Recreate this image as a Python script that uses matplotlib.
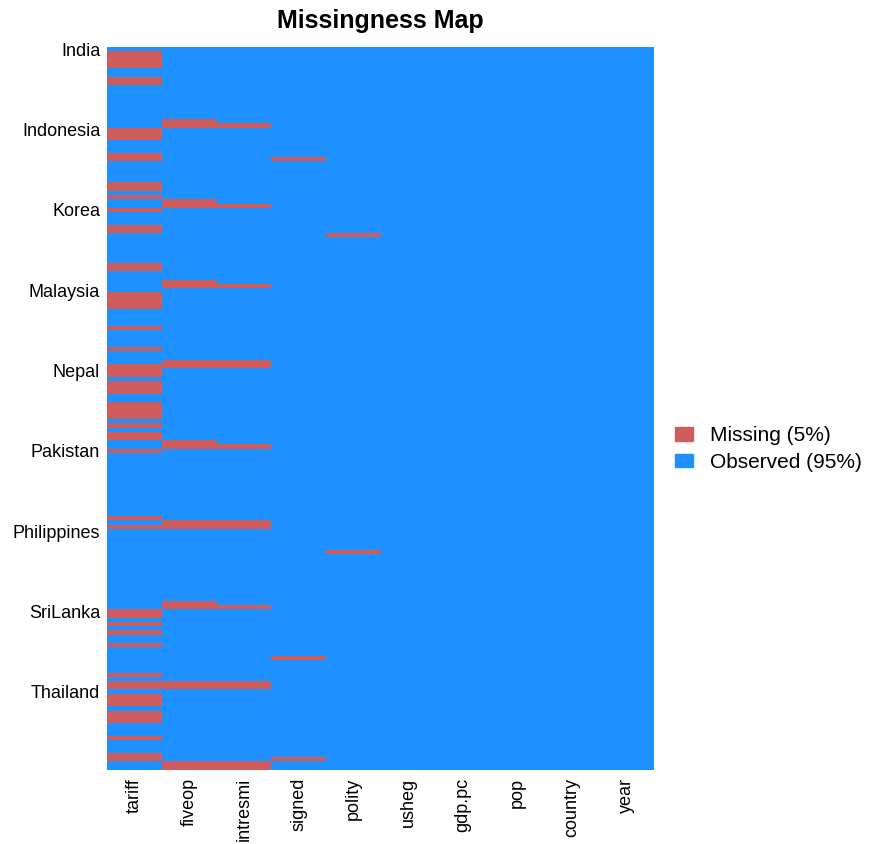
import numpy as np
import matplotlib
matplotlib.use("Agg")
import matplotlib.pyplot as plt
from matplotlib.colors import ListedColormap
from matplotlib.patches import Patch

plt.rcParams['font.family'] = ['Liberation Sans', 'DejaVu Sans']

# Data
countries = ["India", "Indonesia", "Korea", "Malaysia", "Nepal",
             "Pakistan", "Philippines", "SriLanka", "Thailand"]
years = list(range(1981, 2000))
variables = ["tariff", "fiveop", "intresmi", "signed", "polity",
             "usheg", "gdp.pc", "pop", "country", "year"]

# missing years per country, per variable
tariff_missing = {
    "India": [1982, 1983, 1984, 1985, 1988, 1989],
    "Indonesia": [1981, 1982, 1983, 1987, 1988, 1994, 1995, 1997],
    "Korea": [1981, 1985, 1986, 1994, 1995],
    "Malaysia": [1982, 1983, 1984, 1985, 1990, 1995, 1999],
    "Nepal": [1981, 1982, 1984, 1985, 1986, 1989, 1990, 1991, 1992, 1994, 1996, 1997],
    "Pakistan": [1981, 1997, 1999],
    "Philippines": [],
    "SriLanka": [1981, 1982, 1984, 1986, 1989, 1996, 1998, 1999],
    "Thailand": [1982, 1983, 1984, 1986, 1987, 1988, 1992, 1996, 1997],
}
fiveop_missing = {c: [1998, 1999] for c in countries}
intresmi_missing = {
    "India": [1999], "Indonesia": [1999], "Korea": [1999],
    "Malaysia": [1998, 1999], "Nepal": [1999], "Pakistan": [1998, 1999],
    "Philippines": [1999], "SriLanka": [1998, 1999], "Thailand": [1998, 1999],
}
signed_missing = {"Indonesia": [1988], "SriLanka": [1992], "Thailand": [1997]}
polity_missing = {"Korea": [1987], "Philippines": [1986]}

missing = {
    "tariff": tariff_missing,
    "fiveop": fiveop_missing,
    "intresmi": intresmi_missing,
    "signed": signed_missing,
    "polity": polity_missing,
}

# Build missingness matrix (rows = country-years, cols = variables)
n_rows = len(countries) * len(years)
mat = np.zeros((n_rows, len(variables)))
for j, var in enumerate(variables):
    for c, yrs in missing.get(var, {}).items():
        for yr in yrs:
            i = countries.index(c) * len(years) + years.index(yr)
            mat[i, j] = 1

pct_missing = round(100 * mat.mean())

fig = plt.figure(figsize=(8.71, 8.44), dpi=100)
ax = fig.add_axes([0.123, 0.088, 0.628, 0.856])

cmap = ListedColormap(["#1E90FF", "#CD5C5C"])
ax.pcolormesh(np.arange(len(variables) + 1), np.arange(n_rows + 1), mat,
              cmap=cmap, vmin=0, vmax=1)
ax.set_xlim(0, len(variables))
ax.set_ylim(n_rows, 0)

ax.set_xticks(np.arange(len(variables)) + 0.5)
ax.set_xticklabels(variables, rotation=90, fontsize=13)
ax.set_yticks(np.arange(len(countries)) * len(years) + 0.5)
ax.set_yticklabels(countries, fontsize=13)
ax.tick_params(axis="y", length=0, pad=5)
ax.tick_params(axis="x", length=0, pad=6)
for s in ax.spines.values():
    s.set_visible(False)

ax.set_title("Missingness Map", fontsize=18, fontweight="bold", pad=14)

handles = [Patch(color="#CD5C5C", label=f"Missing ({pct_missing}%)"),
           Patch(color="#1E90FF", label=f"Observed ({100 - pct_missing}%)")]
fig.legend(handles=handles, loc="center left", bbox_to_anchor=(0.775, 0.468),
           frameon=False, fontsize=15, handlelength=0.85, handleheight=0.6,
           handletextpad=0.85, labelspacing=0.35, borderpad=0, borderaxespad=0)

plt.savefig("out.png", dpi=100)
